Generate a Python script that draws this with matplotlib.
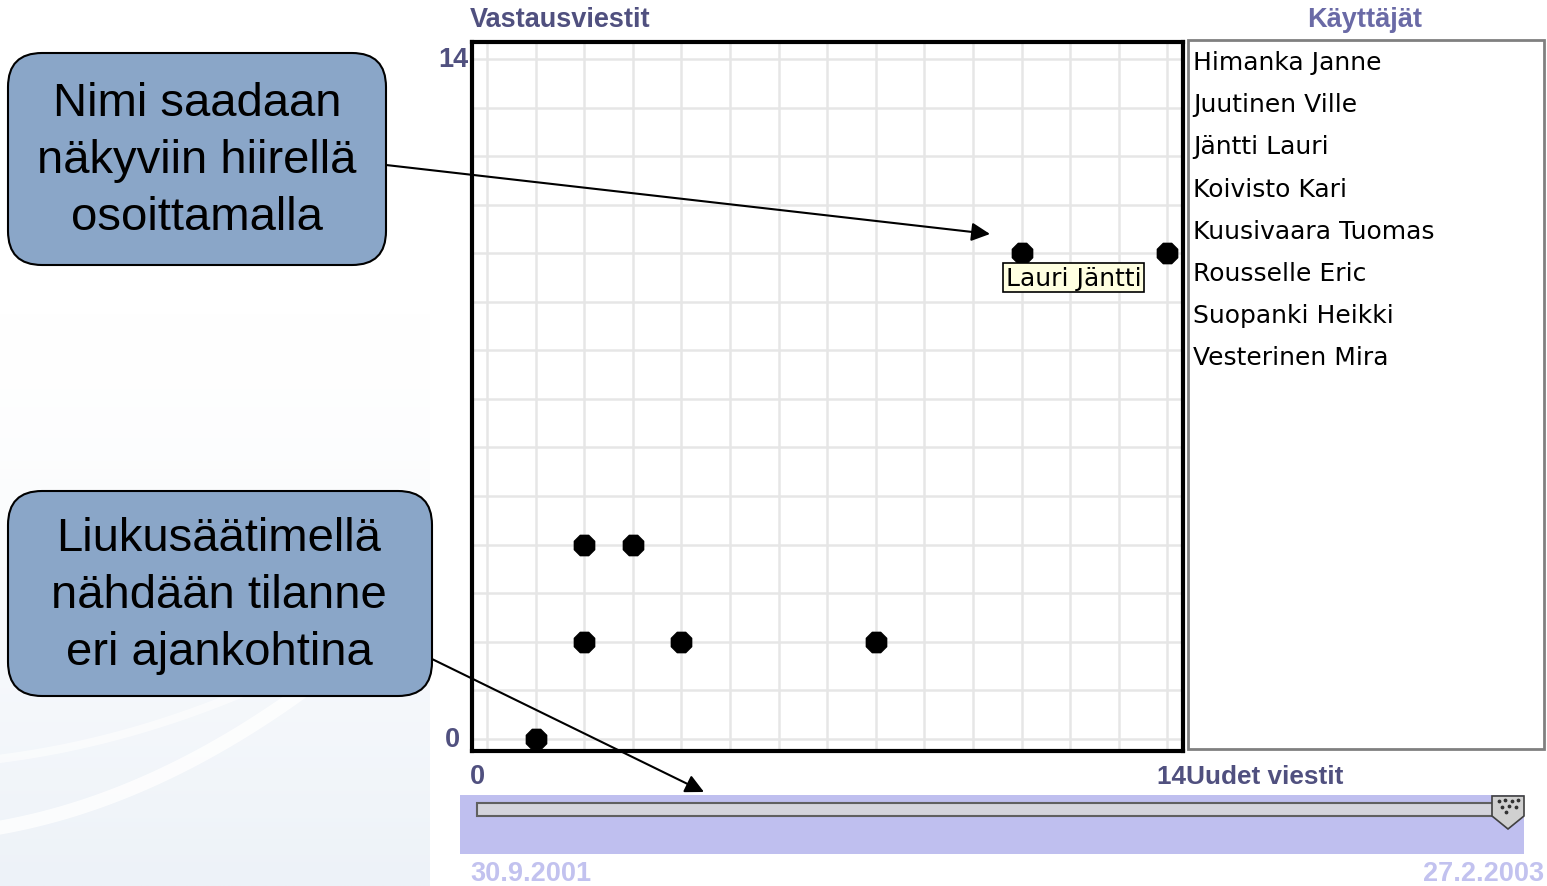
import matplotlib.pyplot as plt
from matplotlib.patches import FancyBboxPatch, Rectangle, Polygon
from matplotlib.colors import LinearSegmentedColormap
import numpy as np

# canvas size in pixels
W, H = 1547, 887

# chart data
new_msgs = [1, 2, 4, 8, 2, 3, 11, 14]      # Uudet viestit (x)
replies = [0, 2, 2, 2, 4, 4, 10, 10]       # Vastausviestit (y)
axis_max = 14
users = ["Himanka Janne", "Juutinen Ville", "Jäntti Lauri", "Koivisto Kari",
         "Kuusivaara Tuomas", "Rousselle Eric", "Suopanki Heikki",
         "Vesterinen Mira"]
hover_idx = 6
hover_name = "Lauri Jäntti"
start_date = "30.9.2001"
end_date = "27.2.2003"
slider_pos = 1.0

callout_top = "Nimi saadaan\nnäkyviin hiirellä\nosoittamalla"
callout_bottom = "Liukusäätimellä\nnähdään tilanne\neri ajankohtina"

LABEL = "#50507f"
LIGHT = "#6a6aa6"
DATE = "#c2c2ef"
BOX = "#8aa6c8"


def px(x0, y0, x1, y1):
	# pixel box (top-left origin) -> figure fraction rect
	return [x0 / W, 1 - y1 / H, (x1 - x0) / W, (y1 - y0) / H]


fig = plt.figure(figsize=(W / 100, H / 100), dpi=100)
fig.patch.set_facecolor("white")

# faint slide background on the left
bg = fig.add_axes([0, 0, 1, 1], zorder=0)
bg.set_xlim(0, W)
bg.set_ylim(H, 0)
bg.axis("off")
pale = LinearSegmentedColormap.from_list("pale", ["#ffffff", "#edf2f8"])
grad = np.linspace(0, 1, 300).reshape(-1, 1) ** 1.5
bg.imshow(grad, extent=(0, 430, 887, 300), cmap=pale, vmin=0, vmax=1, aspect="auto")
xs = np.linspace(0, 430, 100)
bg.plot(xs, 830 - 0.0009 * (xs - 40) ** 2 - 0.25 * xs, color="white", lw=10, alpha=0.8)
bg.plot(xs, 760 - 0.0006 * (xs - 20) ** 2 - 0.15 * xs, color="white", lw=6, alpha=0.6)

# scatter plot
ax = fig.add_axes(px(472, 43, 1183, 752), zorder=2)
ax.scatter(new_msgs, replies, marker="8", s=250, c="black", zorder=3)
ax.set_xlim(-0.31, axis_max + 0.32)
ax.set_ylim(-0.25, axis_max + 0.35)
ax.set_xticks(range(axis_max + 1))
ax.set_yticks(range(axis_max + 1))
ax.set_xticklabels([])
ax.set_yticklabels([])
ax.tick_params(length=0)
ax.grid(color="#e6e6e6", lw=1.8)
ax.set_axisbelow(True)
for s in ax.spines.values():
	s.set_linewidth(3)
	s.set_color("black")

bold = dict(family="Liberation Sans", weight="bold", fontsize=19.5)
ax.text(-0.35, axis_max + 0.82, "Vastausviestit", color=LABEL, ha="left", va="center", **bold)
ax.text(-0.70, axis_max, str(axis_max), color=LABEL, ha="center", va="center", **bold)
ax.text(-0.72, 0, "0", color=LABEL, ha="center", va="center", **bold)
ax.text(-0.2, -0.76, "0", color=LABEL, ha="center", va="center", **bold)
ax.text(axis_max - 0.21, -0.76, str(axis_max) + "Uudet viestit", color=LABEL,
	ha="left", va="center", family="Liberation Sans", weight="bold", fontsize=18.8)

# tooltip over hovered point
ax.text(new_msgs[hover_idx] - 0.33, replies[hover_idx] - 0.5, hover_name,
	family="DejaVu Sans", fontsize=18, ha="left", va="center", zorder=4,
	bbox=dict(boxstyle="square,pad=0.1", fc="#ffffe1", ec="black", lw=1.2))

# overlay for list, slider and callouts
ov = fig.add_axes([0, 0, 1, 1], zorder=5)
ov.set_xlim(0, W)
ov.set_ylim(H, 0)
ov.axis("off")
ov.patch.set_alpha(0)

# user list
ov.text(1365, 20, "Käyttäjät", color=LIGHT, ha="center", va="center", **bold)
ov.add_patch(Rectangle((1188, 41), 356, 709, fc="white", ec="#808080", lw=2))
for i, name in enumerate(users):
	ov.text(1193, 63 + i * 42.2, name, family="DejaVu Sans", fontsize=18,
		ha="left", va="center", color="black")

# time slider
ov.add_patch(Rectangle((460, 796), 1064, 59, fc="#bfbfef", ec="none"))
ov.add_patch(Rectangle((477, 804), 1025, 13, fc="#d4d4dc", ec="#606060", lw=1.5))
tx = 477 + slider_pos * (1508 - 477)
ov.add_patch(Polygon([(tx - 16, 797), (tx + 16, 797), (tx + 16, 817),
	(tx, 830), (tx - 16, 817)], closed=True, fc="#d0d0d0", ec="#404040", lw=1.2))
dots_x = tx + np.array([-9, -3, 4, 10, -6, 1, 8, -2])
dots_y = np.array([802, 801, 802, 801, 808, 807, 808, 813])
ov.scatter(dots_x, dots_y, s=3, c="#333333")
ov.text(470, 874, start_date, color=DATE, ha="left", va="center",
	family="Liberation Sans", weight="bold", fontsize=19.5)
ov.text(1544, 874, end_date, color=DATE, ha="right", va="center",
	family="Liberation Sans", weight="bold", fontsize=19.5)

# callouts
callout = dict(family="Liberation Sans", fontsize=34, ha="center", va="center",
	color="black", linespacing=1.37)
ov.add_patch(FancyBboxPatch((8, 54), 378, 212, boxstyle="round,pad=0,rounding_size=34",
	fc=BOX, ec="black", lw=1.5))
ov.text(197, 161, callout_top, **callout)
ov.add_patch(FancyBboxPatch((8, 492), 424, 205, boxstyle="round,pad=0,rounding_size=34",
	fc=BOX, ec="black", lw=1.5))
ov.text(219, 596, callout_bottom, **callout)

arrow = dict(arrowstyle="-|>", color="black", lw=1.5, mutation_scale=28,
	shrinkA=0, shrinkB=0)
ov.annotate("", xy=(990, 235), xytext=(386, 166), arrowprops=arrow)
ov.annotate("", xy=(704, 793), xytext=(432, 660), arrowprops=arrow)

fig.savefig("out.png", dpi=100)
